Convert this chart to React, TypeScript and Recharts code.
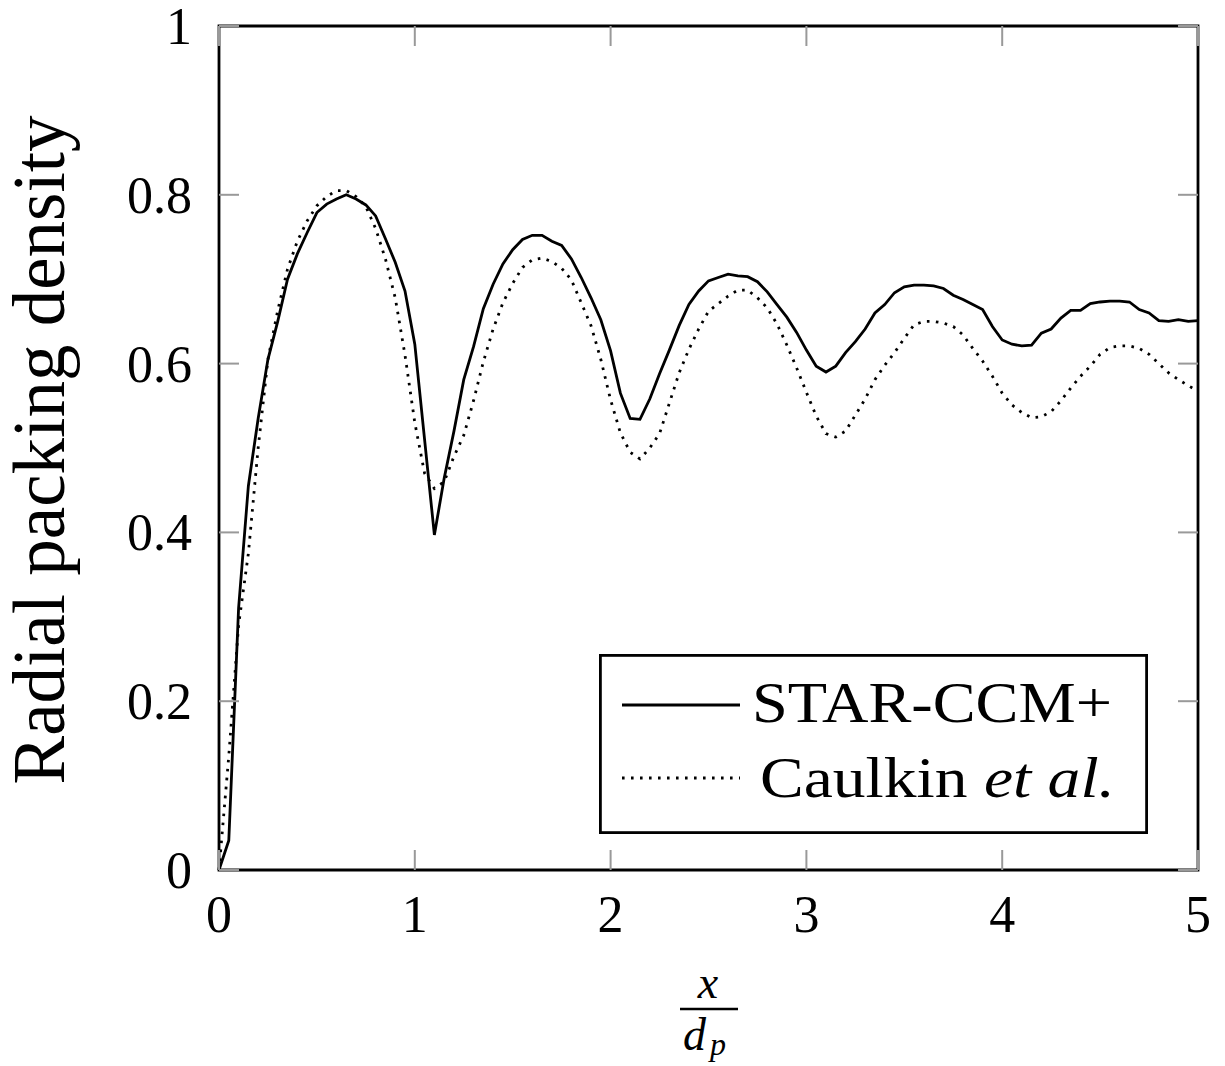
import React from "react";
import { LineChart, Line, XAxis, YAxis, ReferenceArea, Legend } from "recharts";

// radial position x / d_p, sampled every 0.05
const xSamples = [
  0, 0.05, 0.1, 0.15, 0.2, 0.25, 0.3, 0.35, 0.4, 0.45,
  0.5, 0.55, 0.6, 0.65, 0.7, 0.75, 0.8, 0.85, 0.9, 0.95,
  1.0, 1.05, 1.1, 1.15, 1.2, 1.25, 1.3, 1.35, 1.4, 1.45,
  1.5, 1.55, 1.6, 1.65, 1.7, 1.75, 1.8, 1.85, 1.9, 1.95,
  2.0, 2.05, 2.1, 2.15, 2.2, 2.25, 2.3, 2.35, 2.4, 2.45,
  2.5, 2.55, 2.6, 2.65, 2.7, 2.75, 2.8, 2.85, 2.9, 2.95,
  3.0, 3.05, 3.1, 3.15, 3.2, 3.25, 3.3, 3.35, 3.4, 3.45,
  3.5, 3.55, 3.6, 3.65, 3.7, 3.75, 3.8, 3.85, 3.9, 3.95,
  4.0, 4.05, 4.1, 4.15, 4.2, 4.25, 4.3, 4.35, 4.4, 4.45,
  4.5, 4.55, 4.6, 4.65, 4.7, 4.75, 4.8, 4.85, 4.9, 4.95,
  5.0,
];

const starCcm = [
  0, 0.035, 0.31, 0.455, 0.535, 0.605, 0.65, 0.7, 0.73, 0.755,
  0.779, 0.789, 0.795, 0.8, 0.795, 0.788, 0.775, 0.748, 0.72, 0.686,
  0.623, 0.51, 0.397, 0.464, 0.52, 0.581, 0.62, 0.665, 0.694, 0.718,
  0.735, 0.747, 0.752, 0.752, 0.745, 0.74, 0.724, 0.702, 0.678, 0.652,
  0.615, 0.565, 0.535, 0.534, 0.558, 0.588, 0.616, 0.645, 0.67, 0.686,
  0.698, 0.702, 0.706, 0.704, 0.703, 0.697, 0.685, 0.67, 0.655, 0.637,
  0.616, 0.597, 0.59, 0.597, 0.613, 0.626, 0.641, 0.66, 0.67, 0.684,
  0.691, 0.693, 0.693, 0.692, 0.689, 0.681, 0.676, 0.67, 0.664, 0.644,
  0.628, 0.623, 0.621, 0.622, 0.636, 0.641, 0.654, 0.663, 0.663, 0.671,
  0.673, 0.674, 0.674, 0.673, 0.664, 0.66, 0.651, 0.65, 0.652, 0.65,
  0.651,
];

const caulkin = [
  0, 0.135, 0.29, 0.375, 0.5, 0.605, 0.663, 0.712, 0.745, 0.769,
  0.787, 0.798, 0.805, 0.805, 0.798, 0.786, 0.76, 0.724, 0.678, 0.61,
  0.53, 0.47, 0.452, 0.46, 0.49, 0.515, 0.556, 0.602, 0.641, 0.672,
  0.695, 0.714, 0.723, 0.725, 0.721, 0.713, 0.699, 0.672, 0.645, 0.605,
  0.557, 0.518, 0.495, 0.487, 0.5, 0.517, 0.553, 0.589, 0.617, 0.641,
  0.662, 0.671, 0.68, 0.687, 0.687, 0.678, 0.666, 0.647, 0.622, 0.595,
  0.566, 0.538, 0.517, 0.513, 0.52, 0.539, 0.558, 0.581, 0.598, 0.613,
  0.63, 0.646, 0.65, 0.65, 0.648, 0.644, 0.634, 0.618, 0.603, 0.585,
  0.565, 0.551, 0.542, 0.536, 0.537, 0.543, 0.556, 0.571, 0.585, 0.597,
  0.611, 0.619, 0.621, 0.621, 0.618, 0.611, 0.6, 0.589, 0.581, 0.574,
  0.567,
];

const xTicks = [0, 1, 2, 3, 4, 5];
const yTicks = [0, 0.2, 0.4, 0.6, 0.8, 1];

const data = xSamples.map((x, i) => ({ x, star: starCcm[i], caulkin: caulkin[i] }));

const FONT = "'Liberation Serif', 'Times New Roman', serif";
const PLOT_W = 979;
const PLOT_H = 844;
const TICK_LEN = 20;
const TICK_COLOR = "#999";
const LINE_W = 2.8;
const DOTS = "2.6 6.4";

const fmtY = (v: number) => (v === 0 || v === 1 ? String(v) : v.toFixed(1));

// ticks point inwards on both opposite sides of the box
const XTick = ({ x, y, payload }: any) => (
  <g>
    <line x1={x} y1={y} x2={x} y2={y - TICK_LEN} stroke={TICK_COLOR} strokeWidth={2} />
    <line x1={x} y1={y - PLOT_H} x2={x} y2={y - PLOT_H + TICK_LEN} stroke={TICK_COLOR} strokeWidth={2} />
    <text x={x} y={y + 62} textAnchor="middle" fontFamily={FONT} fontSize={52} fill="#000">
      {payload.value}
    </text>
  </g>
);

const YTick = ({ x, y, payload }: any) => (
  <g>
    <line x1={x} y1={y} x2={x + TICK_LEN} y2={y} stroke={TICK_COLOR} strokeWidth={2} />
    <line x1={x + PLOT_W} y1={y} x2={x + PLOT_W - TICK_LEN} y2={y} stroke={TICK_COLOR} strokeWidth={2} />
    <text x={x - 27} y={y + 18} textAnchor="end" fontFamily={FONT} fontSize={52} fill="#000">
      {fmtY(payload.value)}
    </text>
  </g>
);

const YTitle = () => (
  <text
    transform="translate(64,450) rotate(-90)"
    textAnchor="middle"
    fontFamily={FONT}
    fontSize={73}
    fill="#000"
  >
    Radial packing density
  </text>
);

// x over d_p as a stacked fraction
const XTitle = () => (
  <g fontFamily={FONT} fill="#000">
    <text x={708} y={998} textAnchor="middle" fontSize={46} fontStyle="italic">
      x
    </text>
    <line x1={680} y1={1009} x2={738} y2={1009} stroke="#000" strokeWidth={2.5} />
    <text x={683} y={1050} fontSize={46} fontStyle="italic">
      d
    </text>
    <text x={710} y={1055} fontSize={32} fontStyle="italic">
      p
    </text>
  </g>
);

const LegendBox = () => (
  <svg width={549} height={180} style={{ display: "block" }}>
    <rect x={1.4} y={1.4} width={546.2} height={177.2} fill="#fff" stroke="#000" strokeWidth={2.8} />
    <line x1={23} y1={51} x2={141} y2={51} stroke="#000" strokeWidth={LINE_W} />
    <text x={153} y={68} fontFamily={FONT} fontSize={56} textLength={360} lengthAdjust="spacingAndGlyphs">
      STAR-CCM+
    </text>
    <line x1={23} y1={124} x2={141} y2={124} stroke="#000" strokeWidth={LINE_W} strokeDasharray={DOTS} />
    <text x={161} y={143} fontFamily={FONT} fontSize={56} textLength={355} lengthAdjust="spacingAndGlyphs">
      Caulkin <tspan fontStyle="italic">et al.</tspan>
    </text>
  </svg>
);

export default function App() {
  return (
    <div style={{ position: "absolute", left: 0, top: 0, background: "#fff" }}>
      <LineChart
        width={1225}
        height={1066}
        data={data}
        margin={{ top: 26, right: 27, left: 0, bottom: 0 }}
      >
        <XAxis
          type="number"
          dataKey="x"
          domain={[0, 5]}
          ticks={xTicks}
          height={196}
          tickSize={0}
          tickMargin={0}
          tickLine={false}
          axisLine={false}
          tick={<XTick />}
          label={<XTitle />}
        />
        <YAxis
          type="number"
          domain={[0, 1]}
          ticks={yTicks}
          width={219}
          tickSize={0}
          tickMargin={0}
          tickLine={false}
          axisLine={false}
          tick={<YTick />}
          label={<YTitle />}
        />
        <Line
          type="linear"
          dataKey="caulkin"
          stroke="#000"
          strokeWidth={LINE_W}
          strokeDasharray={DOTS}
          dot={false}
          isAnimationActive={false}
        />
        <Line
          type="linear"
          dataKey="star"
          stroke="#000"
          strokeWidth={LINE_W}
          dot={false}
          isAnimationActive={false}
        />
        <ReferenceArea
          x1={0}
          x2={5}
          y1={0}
          y2={1}
          fill="none"
          stroke="#000"
          strokeWidth={2.8}
          ifOverflow="visible"
        />
        <Legend
          layout="horizontal"
          verticalAlign="middle"
          align="center"
          content={<LegendBox />}
          wrapperStyle={{ left: 599, top: 654, width: 549, height: 180 }}
        />
      </LineChart>
    </div>
  );
}
